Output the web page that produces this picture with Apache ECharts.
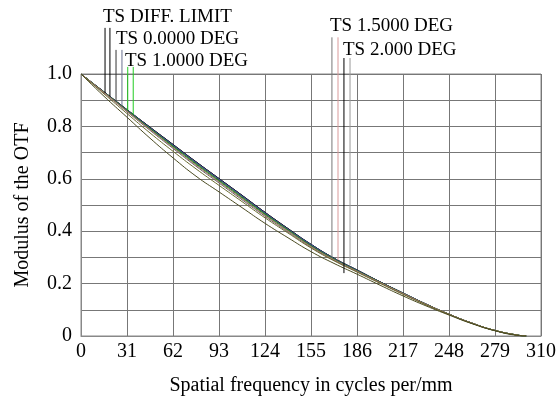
<!DOCTYPE html>
<html><head><meta charset="utf-8">
<script src="https://cdn.jsdelivr.net/npm/echarts@6/dist/echarts.min.js"></script>
<style>html,body{margin:0;padding:0;background:#fff}#c{width:559px;height:403px}</style>
</head><body><div id="c"></div>
<script>
const freq = [0, 15.5, 31, 46.5, 62, 77.5, 93, 108.5, 124, 139.5, 155, 170.5, 186, 201.5, 217, 232.5, 248, 263.5, 279, 294.5, 300];
const diffT  = [1, .932, .864, .797, .731, .665, .601, .537, .472, .410, .350, .297, .252, .207, .164, .122, .083, .049, .021, .003, 0];
const diffS  = [1, .932, .864, .797, .731, .665, .601, .537, .472, .410, .350, .297, .252, .207, .164, .122, .083, .049, .021, .003, 0];
const deg0T  = [1, .931, .862, .794, .727, .661, .597, .533, .468, .407, .347, .295, .250, .206, .163, .121, .083, .049, .021, .003, 0];
const deg0S  = [1, .931, .863, .795, .729, .663, .599, .535, .470, .408, .349, .296, .251, .206, .164, .122, .083, .049, .021, .003, 0];
const deg1T  = [1, .930, .860, .790, .722, .655, .591, .527, .463, .402, .343, .292, .248, .205, .162, .121, .083, .049, .021, .003, 0];
const deg1S  = [1, .930, .861, .792, .725, .658, .594, .530, .466, .405, .345, .294, .249, .205, .163, .121, .083, .049, .021, .003, 0];
const deg15T = [1, .928, .856, .785, .716, .648, .584, .520, .457, .397, .339, .289, .246, .203, .161, .120, .083, .049, .021, .003, 0];
const deg15S = [1, .929, .858, .788, .719, .652, .588, .524, .460, .400, .341, .291, .247, .204, .162, .121, .083, .049, .021, .003, 0];
const deg2T  = [1, .915, .835, .755, .680, .610, .550, .490, .430, .375, .322, .277, .236, .194, .153, .115, .080, .047, .020, .002, 0];
const deg2S  = [1, .924, .849, .775, .705, .638, .575, .513, .451, .393, .336, .287, .244, .201, .159, .119, .082, .048, .021, .003, 0];

const xTicks = [0, 31, 62, 93, 124, 155, 186, 217, 248, 279, 310];
const yTicks = ['0', '0.2', '0.4', '0.6', '0.8', '1.0'];

const pointerFreq   = [16.2, 19.5, 23.6, 27.6, 31.5, 35.2, 169.1, 173.2, 177.2, 181.3];
const pointerBottom = [.928, .915, .898, .882, .862, .846, .300, .290, .240, .272];
const pointerTop    = [1.176, 1.176, 1.092, 1.092, 1.027, 1.027, 1.14, 1.14, 1.061, 1.061];
const pointerColor  = ['#000', '#000', '#333', '#6a7090', '#22cc22', '#22cc22', '#777', '#d99a9a', '#000', '#999'];

const labelTexts = ['TS DIFF. LIMIT', 'TS 0.0000 DEG', 'TS 1.0000 DEG', 'TS 1.5000 DEG', 'TS 2.000 DEG'];

const curves = [
  {d: diffT, c: '#000000'}, {d: diffS, c: '#111111'},
  {d: deg0T, c: '#444444'}, {d: deg0S, c: '#3a4aa0'},
  {d: deg1T, c: '#1c9a1c'}, {d: deg1S, c: '#2a7a2a'},
  {d: deg15T, c: '#666666'}, {d: deg15S, c: '#b07070'},
  {d: deg2S, c: '#6b6b30'}, {d: deg2T, c: '#4a4a20'}
];

const chart = echarts.init(document.getElementById('c'), null, {renderer: 'canvas'});
const FONT = 'Liberation Serif';
const series = curves.map(cv => ({
  type: 'line', data: freq.map((f, i) => [f, cv.d[i]]), showSymbol: false, smooth: true,
  lineStyle: {color: cv.c, width: 1}, silent: true
}));
pointerFreq.forEach((f, i) => {
  series.push({type: 'line', clip: false, showSymbol: false, silent: true,
    data: [[f, pointerBottom[i]], [f, pointerTop[i]]],
    lineStyle: {color: pointerColor[i], width: 1}});
});

const labelPos = [[103, 8], [116, 30], [125, 52], [330, 17], [343, 41]];

chart.setOption({
  animation: false,
  grid: {left: 81, right: 18, top: 74, bottom: 67, show: true, borderColor: '#888', borderWidth: 1},
  xAxis: {type: 'value', min: 0, max: 310, interval: 31,
    name: 'Spatial frequency in cycles per/mm', nameLocation: 'middle', nameGap: 40,
    nameTextStyle: {fontFamily: FONT, fontSize: 20, color: '#000'},
    axisLine: {lineStyle: {color: '#888'}}, axisTick: {show: false},
    axisLabel: {fontFamily: FONT, fontSize: 20, color: '#000', margin: 6,
      formatter: v => xTicks.indexOf(Math.round(v)) >= 0 ? String(Math.round(v)) : ''},
    splitLine: {show: true, lineStyle: {color: '#777', width: 1}}},
  yAxis: {type: 'value', min: 0, max: 1, interval: 0.1,
    name: 'Modulus of the OTF', nameLocation: 'middle', nameGap: 48,
    nameTextStyle: {fontFamily: FONT, fontSize: 20, color: '#000'},
    axisLine: {show: true, lineStyle: {color: '#888'}}, axisTick: {show: false},
    axisLabel: {fontFamily: FONT, fontSize: 20, color: '#000', margin: 9,
      formatter: v => { const k = Math.round(v * 10); return k % 2 === 0 ? yTicks[k / 2] : ''; }},
    splitLine: {show: true, lineStyle: {color: '#777', width: 1}}},
  graphic: labelTexts.map((t, i) => ({type: 'text', left: labelPos[i][0], top: labelPos[i][1],
    style: {text: t, fontFamily: FONT, fontSize: 19, fill: '#000'}})),
  series: series
});
</script></body></html>
